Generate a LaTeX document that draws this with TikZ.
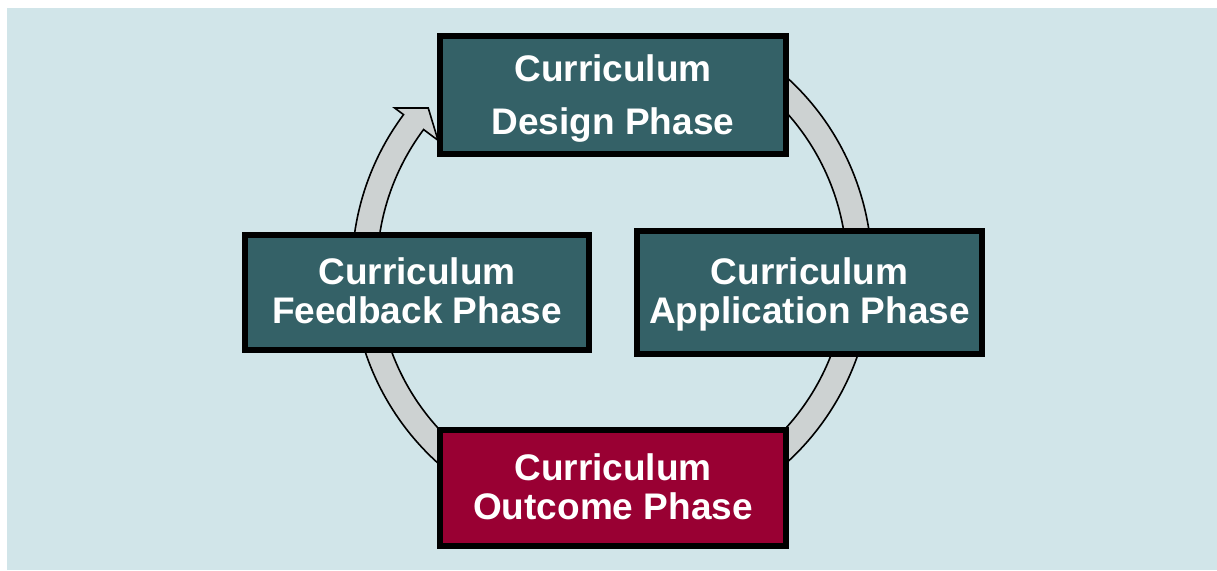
\documentclass[tikz,border=0pt]{standalone}
\usepackage{fontspec}
\setmainfont{Liberation Sans}
\definecolor{bgblue}{RGB}{209,229,233}
\definecolor{teal}{RGB}{52,97,103}
\definecolor{crimson}{RGB}{153,0,51}
\definecolor{ringgray}{RGB}{205,210,210}
\tikzset{
  phasebox/.style={draw=black, line width=6pt, fill=teal, inner sep=0pt},
  phasetext/.style={text=white, align=center, inner sep=0pt,
    font=\fontsize{37}{39}\selectfont\bfseries},
  ringarrow/.style={draw=black, line width=1.6pt, fill=ringgray, line join=miter}
}
\begin{document}
\begin{tikzpicture}[x=1pt,y=1pt]
\useasboundingbox (0,0) rectangle (1217,570);
\fill[white] (0,0) rectangle (1217,570);
\fill[bgblue] (7,0) rectangle (1217,562);
\coordinate (c) at (612,300);
\draw[ringarrow] ([shift={(c)}]60:260) arc[start angle=60,end angle=-216.7,radius=260]
  -- ([shift={(c)}]143.3:271) -- ([shift={(c)}]138.6:245) -- ([shift={(c)}]143.3:217)
  -- ([shift={(c)}]143.3:235) arc[start angle=-216.7,end angle=60,radius=235] -- cycle;
\node[phasebox, minimum width=346pt, minimum height=118pt,
  label={[phasetext, yshift=-5.5pt]center:{\begin{tabular}{@{}c@{}}Curriculum\\[14pt]Design Phase\end{tabular}}}]
  (design) at (613,475) {};
\node[phasebox, minimum width=344pt, minimum height=115pt,
  label={[phasetext, yshift=-4pt]center:{\begin{tabular}{@{}c@{}}Curriculum\\Feedback Phase\end{tabular}}}]
  (feedback) at (417,277.5) {};
\node[phasebox, minimum width=345pt, minimum height=123pt,
  label={[phasetext, yshift=-4pt]center:{\begin{tabular}{@{}c@{}}Curriculum\\Application Phase\end{tabular}}}]
  (application) at (809.5,277.5) {};
\node[phasebox, fill=crimson, minimum width=346pt, minimum height=116pt,
  label={[phasetext, yshift=-4.5pt]center:{\begin{tabular}{@{}c@{}}Curriculum\\Outcome Phase\end{tabular}}}]
  (outcome) at (613,82) {};
\end{tikzpicture}
\end{document}
